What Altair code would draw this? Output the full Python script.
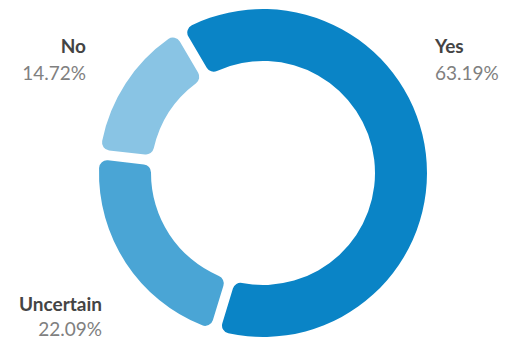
import math
import altair as alt
import pandas as pd

categories = ["Yes", "Uncertain", "No"]
values = [63.19, 22.09, 14.72]
colors = ["#0a84c6", "#4aa5d5", "#89c4e4"]

df = pd.DataFrame({"category": categories, "value": values, "order": list(range(len(categories)))})

FONT = "Lato"
start = math.radians(-30.5)

arc = alt.Chart(df).mark_arc(
    innerRadius=112, outerRadius=164, cornerRadius=8, padAngle=0.05
).encode(
    theta=alt.Theta("value:Q", stack=True, scale=alt.Scale(range=[start, start + 2 * math.pi])),
    order=alt.Order("order:Q"),
    color=alt.Color("category:N", scale=alt.Scale(domain=categories, range=colors), legend=None),
    x=alt.value(263),
    y=alt.value(173),
)

# label placement (style only)
label_pos = {
    "Yes": dict(x=435, align="left", y_name=53, y_pct=80),
    "No": dict(x=86, align="right", y_name=53, y_pct=80),
    "Uncertain": dict(x=102, align="right", y_name=311, y_pct=336),
}

layers = [arc]
for cat in categories:
    p = label_pos[cat]
    base = alt.Chart(df).transform_filter(alt.datum.category == cat).transform_calculate(
        pct="format(datum.value, '.2f') + '%'"
    )
    layers.append(
        base.mark_text(align=p["align"], baseline="alphabetic", font=FONT, fontSize=19,
                       fontWeight="bold", color="#444444").encode(
            text="category:N", x=alt.value(p["x"]), y=alt.value(p["y_name"]))
    )
    layers.append(
        base.mark_text(align=p["align"], baseline="alphabetic", font=FONT, fontSize=19,
                       fontWeight="normal", color="#808080").encode(
            text="pct:N", x=alt.value(p["x"]), y=alt.value(p["y_pct"]))
    )

chart = alt.layer(*layers).properties(
    width=506, height=341, autosize=alt.AutoSizeParams(type="none"), padding=0
).configure_view(stroke=None)

chart.save("out.html", embed_options={"renderer": "svg", "actions": False})
